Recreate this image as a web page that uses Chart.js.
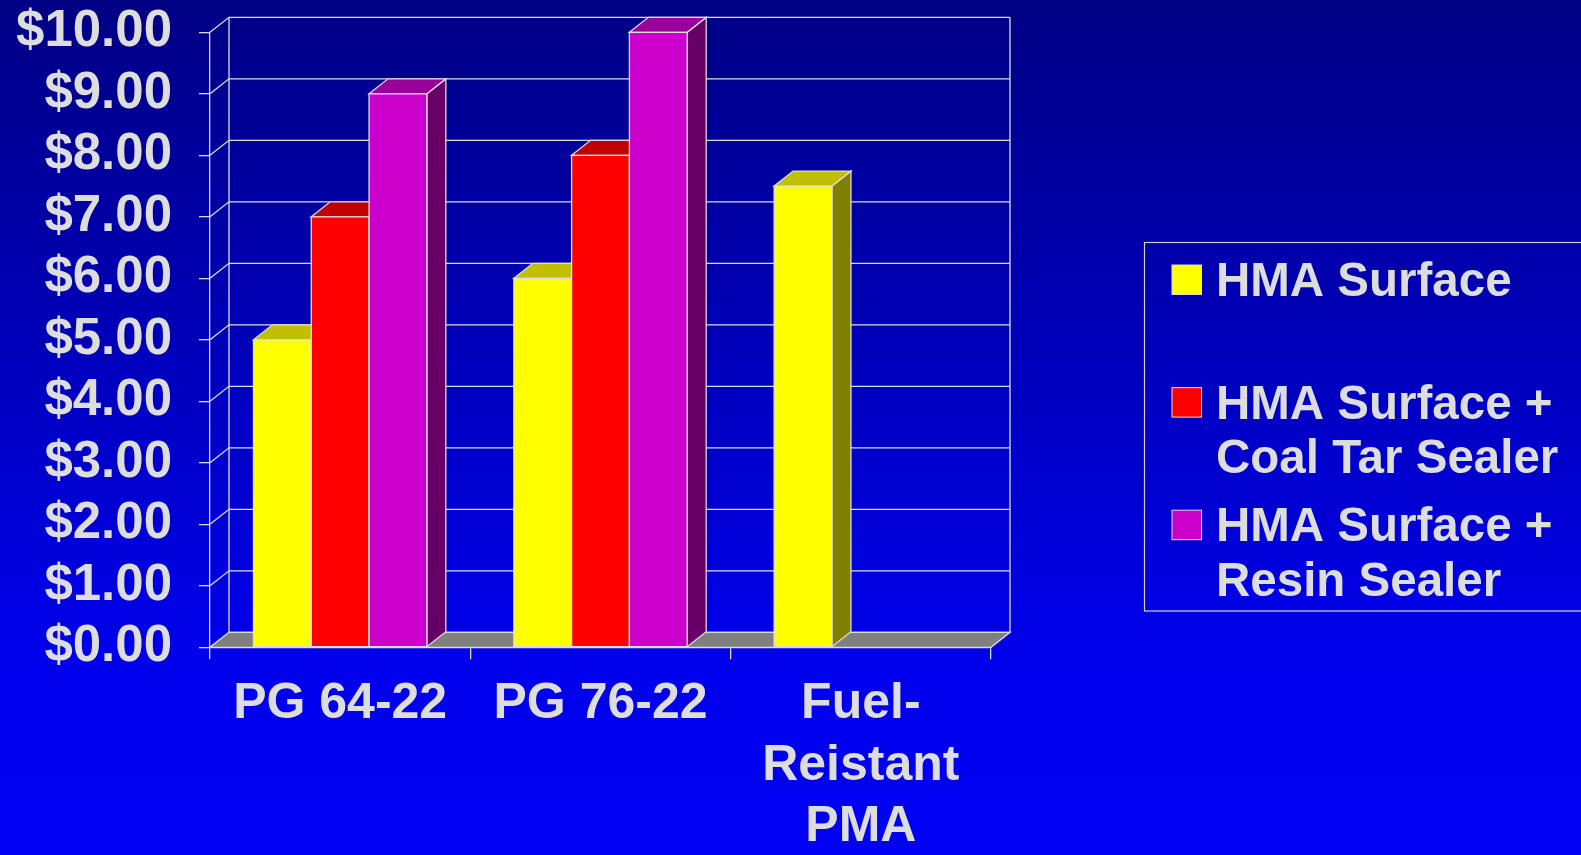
<!DOCTYPE html>
<html>
<head>
<meta charset="utf-8">
<title>Surface cost comparison</title>
<script src="https://cdn.jsdelivr.net/npm/chart.js@4.4.1/dist/chart.umd.min.js"></script>
<style>
  html, body { margin: 0; padding: 0; }
  body {
    width: 1581px; height: 855px; overflow: hidden;
    background: linear-gradient(to bottom, #000084 0%, #0000c0 45%, #0000ee 78%, #0000f4 100%);
  }
  canvas { display: block; }
</style>
</head>
<body>
<canvas id="chart" width="1581" height="855"></canvas>
<script>
// Mix categories (multi-line labels) and cost per series, in dollars
const categories = [['PG 64-22'], ['PG 76-22'], ['Fuel-', 'Reistant', 'PMA']];
const hmaSurface = [5.00, 6.00, 7.50];
const coalTarSealer = [7.00, 8.00, null];
const resinSealer = [9.00, 10.00, null];
const seriesNames = [
  ['HMA Surface'],
  ['HMA Surface +', 'Coal Tar Sealer'],
  ['HMA Surface +', 'Resin Sealer']
];
const yTicks = { min: 0, max: 10, step: 1 };

// Face colours: front, top, side
const palette = [
  { front: '#ffff00', top: '#c0c000', side: '#808000' },
  { front: '#ff0000', top: '#c00000', side: '#800000' },
  { front: '#cc00cc', top: '#990099', side: '#660066' }
];

const LINE = '#dcdcdc';
const TEXT = '#dddddd';
const FONT = '"Liberation Sans", Arial, Helvetica, sans-serif';
const DEPTH_X = 19, DEPTH_Y = -15;

function poly(ctx, pts, fill) {
  ctx.beginPath();
  ctx.moveTo(pts[0][0], pts[0][1]);
  for (let i = 1; i < pts.length; i++) ctx.lineTo(pts[i][0], pts[i][1]);
  ctx.closePath();
  if (fill) { ctx.fillStyle = fill; ctx.fill(); }
  ctx.stroke();
}

// Back wall, floor and extruded bars
const box3d = {
  id: 'box3d',
  beforeDatasetsDraw(chart) {
    const { ctx, chartArea: a, scales: { y } } = chart;
    ctx.save();
    ctx.strokeStyle = LINE;
    ctx.lineWidth = 1.3;
    ctx.lineJoin = 'miter';

    // back wall grid + depth connectors at each tick
    y.ticks.forEach(t => {
      const py = y.getPixelForValue(t.value);
      ctx.beginPath();
      ctx.moveTo(a.left, py);
      ctx.lineTo(a.left + DEPTH_X, py + DEPTH_Y);
      ctx.lineTo(a.right + DEPTH_X, py + DEPTH_Y);
      ctx.stroke();
    });
    ctx.beginPath();
    ctx.moveTo(a.left + DEPTH_X, a.top + DEPTH_Y);
    ctx.lineTo(a.left + DEPTH_X, a.bottom + DEPTH_Y);
    ctx.moveTo(a.right + DEPTH_X, a.top + DEPTH_Y);
    ctx.lineTo(a.right + DEPTH_X, a.bottom + DEPTH_Y);
    ctx.stroke();

    // floor
    poly(ctx, [
      [a.left, a.bottom], [a.right, a.bottom],
      [a.right + DEPTH_X, a.bottom + DEPTH_Y], [a.left + DEPTH_X, a.bottom + DEPTH_Y]
    ], '#808080');

    // bars, category by category, series left to right
    const metas = chart.data.datasets.map((d, i) => chart.getDatasetMeta(i));
    for (let c = 0; c < chart.data.labels.length; c++) {
      metas.forEach((meta, di) => {
        const el = meta.data[c];
        const v = chart.data.datasets[di].data[c];
        if (!el || v === null || v === undefined) return;
        const p = el.getProps(['x', 'y', 'base', 'width'], true);
        const l = p.x - p.width / 2, r = p.x + p.width / 2;
        const top = Math.min(p.y, p.base), bot = Math.max(p.y, p.base);
        const col = palette[di];
        poly(ctx, [[r, top], [r + DEPTH_X, top + DEPTH_Y], [r + DEPTH_X, bot + DEPTH_Y], [r, bot]], col.side);
        poly(ctx, [[l, top], [l + DEPTH_X, top + DEPTH_Y], [r + DEPTH_X, top + DEPTH_Y], [r, top]], col.top);
        poly(ctx, [[l, top], [r, top], [r, bot], [l, bot]], col.front);
      });
    }
    ctx.restore();
    return false;
  }
};

// Boxed legend on the right
const boxLegend = {
  id: 'boxLegend',
  afterDraw(chart) {
    const { ctx } = chart;
    ctx.save();
    ctx.strokeStyle = '#d0d0d0';
    ctx.lineWidth = 1.2;
    ctx.strokeRect(1144.5, 242.5, 460, 368.5);
    ctx.font = 'bold 47.5px ' + FONT;
    ctx.textBaseline = 'alphabetic';
    ctx.textAlign = 'left';
    chart.data.datasets.forEach((ds, i) => {
      const base = 296 + i * 122.6;
      ctx.fillStyle = palette[i].front;
      ctx.fillRect(1172, base - 31, 29.5, 29.5);
      ctx.strokeStyle = LINE;
      ctx.lineWidth = 1;
      ctx.strokeRect(1172, base - 31, 29.5, 29.5);
      ctx.fillStyle = TEXT;
      ds.label.forEach((line, k) => ctx.fillText(line, 1216, base + k * 54.5));
    });
    ctx.restore();
  }
};

new Chart(document.getElementById('chart'), {
  type: 'bar',
  data: {
    labels: categories,
    datasets: [
      { label: seriesNames[0], data: hmaSurface, backgroundColor: palette[0].front },
      { label: seriesNames[1], data: coalTarSealer, backgroundColor: palette[1].front },
      { label: seriesNames[2], data: resinSealer, backgroundColor: palette[2].front }
    ]
  },
  options: {
    responsive: false,
    animation: false,
    devicePixelRatio: 1,
    layout: { padding: { top: 32.3, right: 590, left: 0, bottom: 0 } },
    datasets: { bar: { categoryPercentage: 0.666, barPercentage: 1.0 } },
    plugins: { legend: { display: false }, tooltip: { enabled: false } },
    scales: {
      x: {
        afterFit(s) { s.height = 855 - 647.3; },
        grid: { display: true, offset: true, drawOnChartArea: false, drawTicks: true, tickLength: 12, color: LINE, lineWidth: 1.3 },
        border: { display: true, color: LINE, width: 1.3 },
        ticks: {
          color: TEXT, padding: 14, maxRotation: 0, autoSkip: false,
          font: { family: FONT, weight: 'bold', size: 50, lineHeight: 1.234 }
        }
      },
      y: {
        min: yTicks.min, max: yTicks.max,
        afterFit(s) { s.width = 210; },
        grid: { display: true, drawOnChartArea: false, drawTicks: true, tickLength: 11, color: LINE, lineWidth: 1.3 },
        border: { display: true, color: LINE, width: 1.3 },
        ticks: {
          stepSize: yTicks.step, autoSkip: false, padding: 27, color: TEXT,
          font: { family: FONT, weight: 'bold', size: 51, lineHeight: 0.1 },
          callback: v => '$' + Number(v).toFixed(2)
        }
      }
    }
  },
  plugins: [box3d, boxLegend]
});
</script>
</body>
</html>
